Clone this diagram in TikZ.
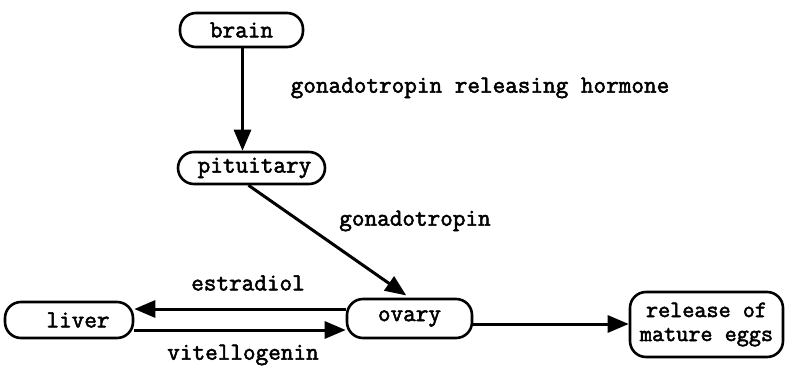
\documentclass[tikz,border=0pt]{standalone}
\usepackage{fontspec}
\newfontfamily\typewriter{Latin Modern Mono}[FakeBold=2.2]
\usetikzlibrary{arrows.meta,calc}
\begin{document}
\begin{tikzpicture}[x=1pt,y=-1pt,
  font=\typewriter\fontsize{24.5}{24}\selectfont,
  organ/.style={draw,line width=2.6pt,rounded corners=16pt,inner sep=0pt,align=center},
  arr/.style={line width=3pt,-{Triangle[length=21pt,width=17pt]}},
  lbl/.style={inner sep=0pt}]
\useasboundingbox (0,0) rectangle (787,367);

% organs
\node[organ,minimum width=123pt,minimum height=34pt] (brain) at (241.5,30) {brain};
\node[organ,minimum width=147pt,minimum height=32pt] (pituitary) at (251.5,168) {\hspace{6pt}pituitary};
\node[organ,minimum width=125pt,minimum height=39pt] (ovary) at (409.5,318.5) {ovary};
\node[organ,minimum width=128pt,minimum height=36pt] (liver) at (69,320) {\hspace{18pt}liver};
\node[organ,minimum width=153pt,minimum height=65pt,font=\typewriter\fontsize{23.5}{24}\selectfont] (release) at (706.5,324.5) {release of\\mature eggs};

% hormone labels
\node[lbl] (grh) at (480,88) {gonadotropin releasing hormone};
\node[lbl] (gt) at (415,221) {gonadotropin};
\node[lbl] (es) at (248,283) {estradiol};
\node[lbl] (vt) at (243,355) {vitellogenin};

% signalling pathways
\draw[arr] ([xshift=1pt]brain.south) -- ([xshift=1pt]brain.south |- pituitary.north);
\draw[arr,shorten >=4pt] ([xshift=-3pt]pituitary.south) -- (ovary.north);
\draw[arr] ([yshift=9.5pt]ovary.west) -- ([yshift=9.5pt]ovary.west -| liver.east);
\draw[arr] ([yshift=-10pt]liver.east) -- ([yshift=-10pt]liver.east -| ovary.west);
\draw[arr] ([yshift=-5.5pt]ovary.east) -- ([yshift=-5.5pt]ovary.east -| release.west);
\end{tikzpicture}
\end{document}
